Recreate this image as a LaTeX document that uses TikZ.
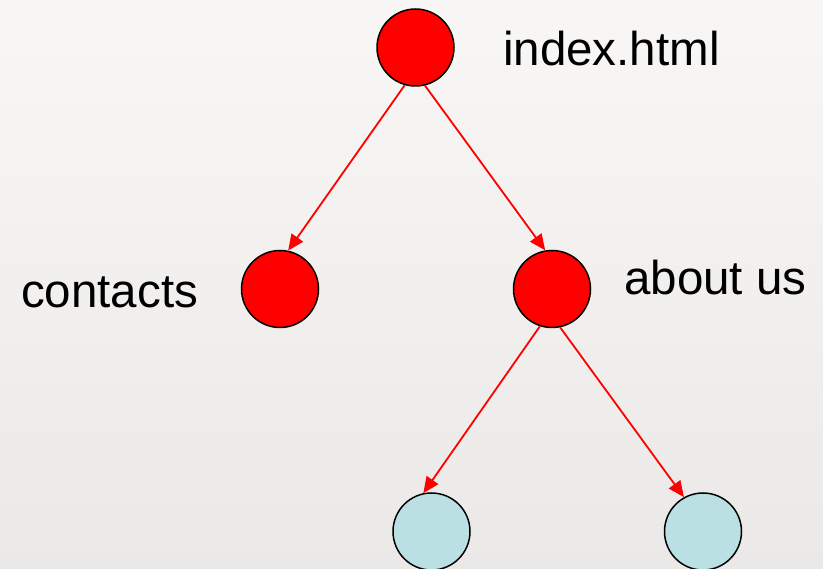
\documentclass[tikz,border=0pt]{standalone}
\usepackage{fontspec}
\setmainfont{Liberation Sans}
\usetikzlibrary{arrows.meta}
\definecolor{bgtop}{HTML}{F8F7F6}
\definecolor{bgbot}{HTML}{EAE9E8}
\definecolor{leaf}{HTML}{BBE0E3}
\tikzset{
  page/.style={x=1pt,y=-1pt},
  redball/.style={circle,draw=black,line width=1.5pt,fill=red,minimum size=77pt,inner sep=0pt},
  blueball/.style={circle,draw=black,line width=1.5pt,fill=leaf,minimum size=77pt,inner sep=0pt},
  link/.style={draw=red,line width=1.8pt,-{Triangle[length=16pt,width=14pt]}},
  lbl/.style={anchor=base west,inner sep=0pt,font=\fontsize{47.5}{50}\selectfont}
}
\begin{document}
\begin{tikzpicture}[page]
\useasboundingbox (0,0) rectangle (823,569);
\clip (0,0) rectangle (823,569);
\shade[top color=bgtop,bottom color=bgbot] (0,0) rectangle (823,569);
\node[redball] (index) at (415.5,47.5) {};
\node[redball] (contacts) at (280,289) {};
\node[redball] (about) at (552,289) {};
\node[blueball] (leafA) at (431.5,531.5) {};
\node[blueball] (leafB) at (703,531.5) {};
\node[lbl] (tindex) at (503,66) {index.html};
\node[lbl] (tcontacts) at (21,308) {contacts};
\node[lbl] (tabout) at (624,295) {about us};
\draw[link] (index.254) -- (contacts.78);
\draw[link] (index.284) -- (about.100);
\draw[link] (about.252) -- (leafA.102);
\draw[link] (about.282) -- (leafB.119);
\end{tikzpicture}
\end{document}
